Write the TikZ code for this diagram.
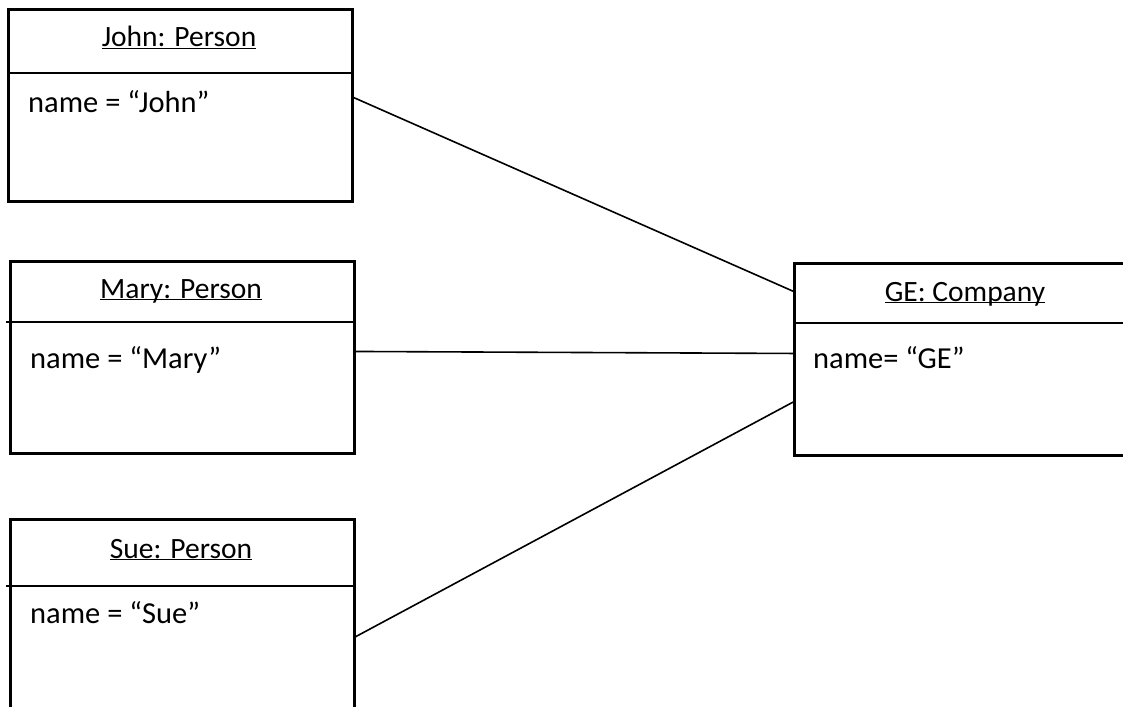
\documentclass[tikz,border=0pt]{standalone}
\usepackage{fontspec}
\setmainfont{Carlito}
\usetikzlibrary{calc,positioning}
\tikzset{%
	object/.style  = {draw, rectangle, line width=2.6pt, minimum width=344pt, minimum height=192pt, inner sep=0pt, anchor=north west},
	divider/.style = {line width=2.6pt},
	objname/.style = {anchor=base, inner sep=0pt, font=\fontsize{29.5}{35}\selectfont},
	attr/.style    = {anchor=base west, inner sep=0pt, font=\fontsize{30.5}{36}\selectfont},
	link/.style    = {line width=1.6pt},
}
\newcommand{\objtitle}[1]{\underline{\smash{#1}}}
\begin{document}
\begin{tikzpicture}[x=1pt,y=-1pt]
	\useasboundingbox (0,0) rectangle (1123,706);
	\node[object] (john) at (7,8) {};
	\node[object] (mary) at (9,260) {};
	\node[object] (sue) at (9,518) {};
	\node[object] (ge) at (793,262) {};
	\draw[divider] ([yshift=-65pt]john.north west) -- ([yshift=-65pt]john.north east);
	\draw[divider] ([xshift=-3pt,yshift=-62pt]mary.north west) -- ([yshift=-62pt]mary.north east);
	\draw[divider] ([xshift=-3pt,yshift=-68pt]sue.north west) -- ([yshift=-68pt]sue.north east);
	\draw[divider] ([yshift=-61pt]ge.north west) -- ([yshift=-61pt]ge.north east);
	\node[objname] (johnname) at (179,47) {\objtitle{John: Person}};
	\node[objname] (maryname) at (181,298) {\objtitle{Mary: Person}};
	\node[objname] (suename) at (181,558) {\objtitle{Sue: Person}};
	\node[objname] (gename) at (965,301) {\objtitle{GE: Company}};
	\node[attr] (johnattr) at (28,113) {name = “John”};
	\node[attr] (maryattr) at (30,368) {name = “Mary”};
	\node[attr] (sueattr) at (30,623) {name = “Sue”};
	\node[attr] (geattr) at (813,368) {name= “GE”};
	\draw[link] ($(john.north east)!0.46!(john.south east)$) -- ($(ge.north west)!0.15!(ge.south west)$);
	\draw[link] ($(mary.north east)!0.47!(mary.south east)$) -- ($(ge.north west)!0.47!(ge.south west)$);
	\draw[link] ($(sue.north east)!0.61!(sue.south east)$) -- ($(ge.north west)!0.72!(ge.south west)$);
\end{tikzpicture}
\end{document}
